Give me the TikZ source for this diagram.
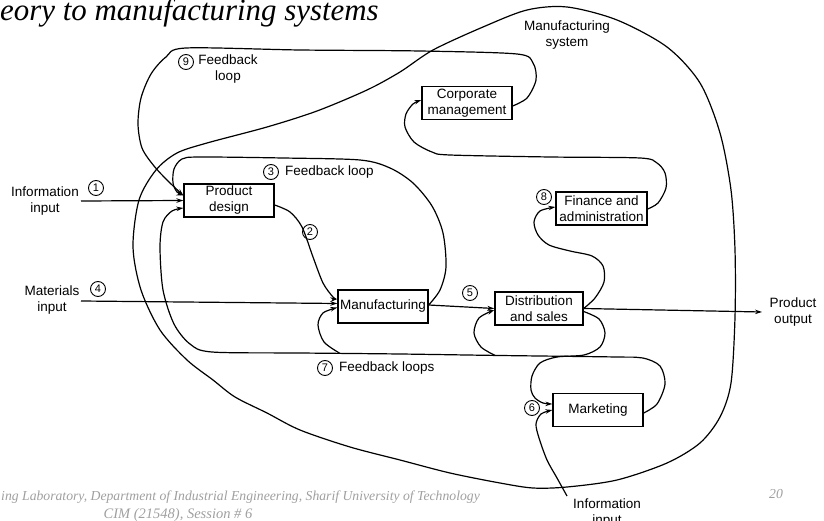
\documentclass[tikz,border=0pt]{standalone}
\usepackage{fontspec}
\setmainfont{Liberation Serif}
\setsansfont{Liberation Sans}
\usetikzlibrary{arrows.meta,positioning}

\tikzset{
  block/.style={draw, line width=1.3pt, minimum width=90pt, minimum height=33pt,
    align=center, inner sep=1pt, font=\sffamily\fontsize{13.5}{16}\selectfont},
  lbl/.style={align=center, inner sep=0pt, font=\sffamily\fontsize{13.5}{16}\selectfont},
  num/.style={circle, draw, line width=0.9pt, minimum size=15pt, inner sep=0pt,
    font=\sffamily\fontsize{11}{11}\selectfont},
  flow/.style={line width=1.2pt, -{Stealth[length=7pt,width=4.5pt]}},
  wire/.style={line width=1.2pt},
  foot/.style={inner sep=0pt, text=gray!75, font=\itshape\fontsize{13.7}{13.7}\selectfont},
}

\begin{document}
\begin{tikzpicture}[x=1pt,y=-1pt]
	\useasboundingbox (0,0) rectangle (824,521);

	% title and footer
	\node[anchor=base west, inner sep=0pt, font=\itshape\fontsize{30.9}{31}\selectfont] (title) at (0,21) {eory to manufacturing systems};
	\node[foot, anchor=base east] (foot1) at (480,500) {ing Laboratory, Department of Industrial Engineering, Sharif University of Technology};
	\node[foot, anchor=base, font=\itshape\fontsize{14.5}{14.5}\selectfont] (foot2) at (178,518) {CIM (21548), Session \# 6};
	\node[foot, anchor=base] (pgno) at (776,498) {20};

	% blocks
	\node[block] (pd) at (229,200.5) {Product\\design};
	\node[block] (mf) at (383,306.5) {Manufacturing};
	\node[block, minimum width=88pt] (ds) at (539,308.5) {Distribution\\and sales};
	\node[block] (mk) at (598,410) {Marketing};
	\node[block, minimum width=91pt] (fa) at (601.5,208.5) {Finance and\\administration};
	\node[block] (cm) at (467,103) {Corporate\\management};

	% labels
	\node[lbl] (infoA) at (45,201) {Information\\input};
	\node[lbl] (matA) at (52,300) {Materials\\input};
	\node[lbl] (outA) at (793,312) {Product\\output};
	\node[lbl] (infoB) at (607,513) {Information\\input};
	\node[lbl] (sysA) at (567,35.5) {Manufacturing\\system};
	\node[num] (n1) at (96,188) {1};
	\node[num] (n2) at (310,232) {2};
	\node[num] (n3) at (271,172) {3};
	\node[lbl, right=6pt of n3] (fb3) {Feedback loop};
	\node[num] (n4) at (98,289) {4};
	\node[num] (n5) at (470,293) {5};
	\node[num] (n6) at (532,408) {6};
	\node[num] (n7) at (325,368) {7};
	\node[lbl, right=6pt of n7] (fb7) {Feedback loops};
	\node[num] (n8) at (544,197) {8};
	\node[num] (n9) at (186,62) {9};
	\node[lbl] (fb9) at (228,69.5) {Feedback\\loop};

	% free ends
	\coordinate (infoEnd) at (81,201);
	\coordinate (matEnd) at (81,301);
	\coordinate (outEnd) at (762,312);
	\coordinate (infoBEnd) at (567,496);
	\coordinate (j7a) at (340,353.4);
	\coordinate (j7b) at (495,355.4);

	% system boundary
	\draw[wire] plot[smooth cycle] coordinates {(567,7) (617,20) (667,47) (700,83) (720,133) (731,190) (735,250) (735,317) (731,383) (720,417) (700,443) (667,463) (617,480) (567,487) (533,488) (500,483) (450,473) (400,460) (350,447) (300,430) (267,413) (235,397) (213,380) (187,360) (160,330) (141,290) (133,247) (139,200) (156,170) (177,153) (207,143) (267,127) (317,111) (367,90) (400,72) (433,50) (483,27) (527,10)};

	% straight flows
	\draw[flow] (infoEnd) -- (pd.west);
	\draw[flow] (matEnd) -- ([yshift=3pt]mf.west);
	\draw[flow] ([yshift=1.5pt]mf.east) -- (ds.west);
	\draw[flow] (ds.east) -- (outEnd);

	% curved flows
	\draw[flow] plot[smooth] coordinates {([yshift=-4.5pt]pd.east) (290,212) (302,227) (313,257) (323,283) (333,297) ([yshift=7.5pt]mf.west)};
	\draw[flow] plot[smooth] coordinates {([yshift=1.5pt]mf.east) (440,290) (446,267) (443,233) (432,206) (413,183) (390,168) (360,160) (283,158) (200,157) (182,159) (174,169) (173,183) (177,192) ([yshift=5pt]pd.west)};
	\draw[flow] plot[smooth] coordinates {([yshift=-3pt]cm.east) (527,98) (536,80) (533,63) (517,54) (420,51) (300,50) (186,48) (166,57) (151,74) (141,98) (138,124) (142,148) (154,166) (168,181) ([yshift=5pt]pd.west)};
	\draw[flow] plot[smooth] coordinates {([yshift=-0.5pt]fa.east) (658,203) (666,188) (665,173) (657,163) (640,158) (550,157) (450,155) (432,152) (414,142) (405,127) (406,114) (413,104) ([yshift=3pt]cm.west)};
	\draw[flow] plot[smooth] coordinates {(ds.east) (595,298) (604,282) (603,266) (592,256) (570,251) (549,245) (538,235) (534,222) (540,211) ([yshift=1.5pt]fa.west)};
	\draw[flow] plot[smooth] coordinates {([yshift=-3pt]ds.east) (599,319) (605,333) (600,347) (584,355) (557,357) (540,363) (532,376) (531,390) (535,398) (543,403) ([yshift=6pt]mk.west)};
	\draw[flow] plot[smooth] coordinates {(infoBEnd) (557,478) (547,460) (539,438) (536,424) (541,414) (mk.west)};
	\draw[flow] plot[smooth] coordinates {([yshift=-3pt]mk.east) (657,404) (665,384) (660,366) (643,358) (617,357) (500,355.5) (400,354) (300,353) (212,352) (190,344) (174,324) (163,290) (160,247) (163,222) (172,211) ([yshift=-7.5pt]pd.west)};
	\draw[flow] plot[smooth] coordinates {(j7a) (324,342) (318,325) (323,313) ([yshift=-1pt]mf.west)};
	\draw[flow] plot[smooth] coordinates {(j7b) (481,347) (474,333) (479,318) ([yshift=-1.5pt]ds.west)};
\end{tikzpicture}
\end{document}
